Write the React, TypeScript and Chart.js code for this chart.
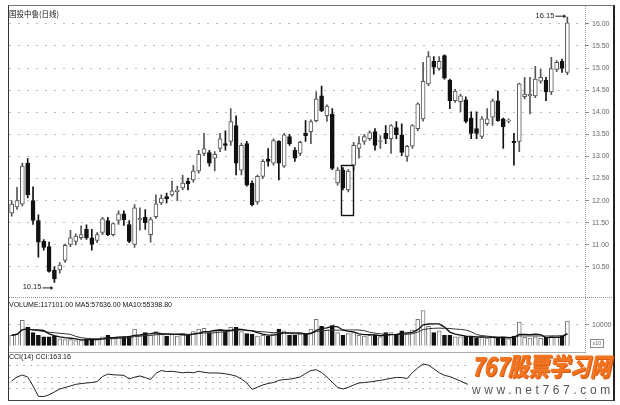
import React, { useEffect, useRef } from 'react';
import { Chart, registerables } from 'chart.js';

Chart.register(...registerables);

// ---- Data ----
const opens = [
  11.72, 11.86, 11.92, 12.85, 12.00, 11.55, 11.08, 10.96, 10.43, 10.43,
  10.65, 11.01, 11.08, 11.16, 11.35, 11.16, 11.10, 11.28, 11.55, 11.23,
  11.55, 11.70, 11.46, 11.01, 11.57, 11.62, 11.23, 11.64, 11.95, 12.09,
  12.13, 12.20, 12.29, 12.44, 12.47, 12.67, 13.07, 13.09, 12.96, 13.18,
  13.29, 13.34, 13.70, 12.69, 13.29, 12.40, 11.97, 12.55, 12.94, 12.85,
  13.34, 12.78, 13.45, 13.14, 13.07, 13.52, 13.56, 13.81, 14.37, 13.92,
  13.96, 12.40, 12.69, 12.24, 12.80, 13.18, 13.34, 13.40, 13.56, 13.34,
  13.52, 13.40, 13.65, 13.49, 13.00, 13.23, 13.63, 13.85, 14.64, 15.15,
  14.99, 15.28, 14.73, 14.26, 14.24, 14.28, 13.87, 13.63, 13.45, 13.74,
  13.89, 14.26, 13.85, 13.80, 13.34, 13.34, 14.35, 14.37, 14.37, 14.70,
  14.73, 14.46, 14.97, 15.15, 14.90,
];
const highs = [
  12.00, 12.30, 12.85, 12.95, 12.31, 11.68, 11.12, 11.06, 10.50, 10.60,
  11.02, 11.33, 11.25, 11.43, 11.45, 11.35, 11.28, 11.62, 11.62, 11.50,
  11.77, 11.77, 11.55, 11.91, 11.84, 11.80, 11.62, 12.13, 12.13, 12.17,
  12.44, 12.33, 12.58, 12.51, 12.80, 13.14, 13.52, 13.14, 13.11, 13.52,
  13.58, 14.08, 13.92, 13.30, 13.34, 12.45, 12.58, 12.93, 13.18, 13.40,
  13.36, 13.52, 13.50, 13.20, 13.34, 13.81, 13.83, 14.46, 14.59, 14.17,
  14.08, 12.75, 12.75, 12.70, 13.32, 13.45, 13.50, 13.58, 13.63, 13.47,
  13.70, 13.72, 13.79, 13.74, 13.25, 13.72, 14.21, 15.13, 15.37, 15.26,
  15.26, 15.30, 14.75, 14.52, 14.41, 14.35, 14.01, 14.01, 13.90, 14.08,
  14.30, 14.48, 13.87, 13.85, 13.52, 14.66, 14.79, 14.79, 15.04, 14.97,
  14.79, 15.24, 15.17, 15.20, 16.15,
];
const lows = [
  11.65, 11.80, 11.88, 12.06, 11.46, 10.72, 10.88, 10.38, 10.15, 10.36,
  10.60, 10.96, 11.00, 11.12, 11.12, 10.88, 11.05, 11.23, 11.21, 11.20,
  11.46, 11.44, 11.05, 10.94, 11.33, 11.35, 11.06, 11.60, 11.91, 11.95,
  12.10, 12.00, 12.25, 12.24, 12.42, 12.62, 13.02, 12.78, 12.67, 13.11,
  13.14, 13.25, 12.58, 12.58, 12.33, 11.88, 11.92, 12.50, 12.78, 12.80,
  12.47, 12.75, 13.25, 12.89, 13.02, 13.34, 13.29, 13.78, 14.01, 13.79,
  12.70, 12.35, 12.24, 12.20, 12.69, 12.96, 13.27, 13.36, 13.14, 13.18,
  13.29, 13.07, 13.40, 13.02, 12.89, 13.18, 13.58, 13.80, 14.60, 14.86,
  14.95, 14.75, 14.08, 14.22, 14.01, 13.76, 13.40, 13.40, 13.40, 13.70,
  13.70, 13.79, 13.18, 13.76, 12.80, 13.11, 14.30, 13.96, 14.33, 14.66,
  14.26, 14.40, 14.92, 14.90, 14.85,
];
const closes = [
  11.92, 12.00, 12.78, 12.13, 11.55, 11.06, 10.94, 10.40, 10.23, 10.54,
  10.99, 11.16, 11.20, 11.23, 11.16, 11.01, 11.23, 11.59, 11.23, 11.48,
  11.70, 11.57, 11.08, 11.84, 11.60, 11.50, 11.57, 11.93, 12.06, 12.04,
  12.22, 12.24, 12.40, 12.38, 12.67, 13.05, 13.18, 12.85, 13.05, 13.40,
  13.25, 13.79, 12.85, 13.25, 12.35, 11.91, 12.55, 12.89, 12.89, 13.36,
  12.85, 13.49, 13.29, 12.96, 13.32, 13.47, 13.79, 14.30, 14.03, 14.14,
  12.73, 12.69, 12.29, 12.67, 13.25, 13.29, 13.45, 13.54, 13.25, 13.36,
  13.40, 13.70, 13.49, 13.09, 13.23, 13.70, 14.19, 14.70, 15.26, 15.02,
  15.15, 14.77, 14.26, 14.48, 14.37, 13.79, 13.52, 13.52, 13.85, 13.85,
  14.26, 13.81, 13.67, 13.82, 13.31, 14.64, 14.41, 14.41, 14.75, 14.79,
  14.46, 14.99, 15.13, 14.99, 16.02,
];
const volumes = [
  50000, 58000, 121000, 87500, 62500, 50000, 42000, 42000, 46000, 33000,
  29000, 29000, 25000, 25000, 33000, 33000, 33000, 42000, 50000, 37000,
  42000, 42000, 46000, 79000, 50000, 62500, 50000, 67000, 58000, 46000,
  54000, 46000, 58000, 50000, 67000, 79000, 83000, 62500, 71000, 79000,
  67000, 87500, 87500, 67000, 58000, 54000, 46000, 50000, 46000, 58000,
  79000, 71000, 50000, 50000, 58000, 54000, 79000, 125000, 92000, 75000,
  96000, 62500, 50000, 58000, 62500, 50000, 46000, 50000, 50000, 42000,
  62500, 62500, 54000, 71000, 58000, 75000, 125000, 167000, 92000, 62500,
  71000, 50000, 50000, 42000, 42000, 46000, 42000, 37000, 42000, 37000,
  42000, 37000, 42000, 33000, 46000, 112000, 40000, 36000, 42000, 35808,
  40000, 45000, 40000, 46079, 117101,
];
const cciValues = [
  33, 100, 133, 100, -50, -222, -227, -197, -150, -100,
  -75, -50, -22, -10, 0, 8, 23, 108, 148, 137,
  133, 127, 68, 97, 117, 90, 58, 162, 208, 190,
  195, 183, 170, 180, 170, 195, 178, 167, 167, 165,
  153, 138, 115, 67, 0, -107, -70, -33, -8, 8,
  43, 58, 63, 80, 100, 158, 208, 222, 175, 100,
  12, -72, -100, -73, -33, 0, 8, 17, 30, 43,
  60, 78, 92, 90, 75, 173, 252, 317, 298, 237,
  173, 127, 107, 70, 32, -10, -37, -50, -58, -75,
  -100, -133, -167, -200, -175, 33, 83, 92, 108, 117,
  100, 133, 142, 133, 163,
];
const priceTicks = [10.5, 11, 11.5, 12, 12.5, 13, 13.5, 14, 14.5, 15, 15.5, 16];
const priceTickLabels = ['10.50', '11.00', '11.50', '12.00', '12.50', '13.00', '13.50', '14.00', '14.50', '15.00', '15.50', '16.00'];
const volumeTicks = [100000];
const volumeTickLabels = ['10000'];
const cciTicks = [-100, 0, 100, 300];
// highlighted candles (box): from/to candle index, price top/bottom
const highlightIndex = [61.6, 63.8];
const highlightPrice = [12.8, 11.66];

const TITLE = '国投中鲁(日线)';
const VOLUME_HEADER = 'VOLUME:117101.00 MA5:57636.00 MA10:55398.80';
const CCI_HEADER = 'CCI(14) CCI:163.16';

// ---- Styling / layout constants ----
const FONT = '"Liberation Sans", Arial, sans-serif';
const X_MIN = -0.5;
const X_MAX = 107.3;
const UP_EDGE = '#555';
const DOWN_FILL = '#111';

const movingAvg = (arr: number[], n: number) =>
  arr.map((_, i) => {
    const s = arr.slice(Math.max(0, i - n + 1), i + 1);
    return s.reduce((a, b) => a + b, 0) / s.length;
  });

const xScale = { type: 'linear', min: X_MIN, max: X_MAX, offset: false, display: false };

const annotPlugin = {
  id: 'annot',
  afterDatasetsDraw(chart: any) {
    const { ctx, scales } = chart;
    const x = scales.x, y = scales.y;
    let lo = 0, hi = 0;
    lows.forEach((v, i) => { if (v < lows[lo]) lo = i; });
    highs.forEach((v, i) => { if (v > highs[hi]) hi = i; });
    ctx.save();
    ctx.font = `7.5px ${FONT}`;
    ctx.fillStyle = '#222';
    ctx.strokeStyle = '#222';
    ctx.lineWidth = 1;
    ctx.textBaseline = 'middle';
    const draw = (label: string, px: number, py: number) => {
      ctx.textAlign = 'right';
      ctx.fillText(label, px - 13, py);
      ctx.beginPath();
      ctx.moveTo(px - 12, py + 0.5);
      ctx.lineTo(px - 3, py + 0.5);
      ctx.stroke();
      ctx.beginPath();
      ctx.moveTo(px - 1, py + 0.5);
      ctx.lineTo(px - 4, py - 1.5);
      ctx.lineTo(px - 4, py + 2.5);
      ctx.closePath();
      ctx.fill();
    };
    draw(lows[lo].toFixed(2), x.getPixelForValue(lo), y.getPixelForValue(lows[lo]) + 5);
    draw(highs[hi].toFixed(2), x.getPixelForValue(hi), y.getPixelForValue(highs[hi]) - 1.5);

    // highlight box
    const bx1 = x.getPixelForValue(highlightIndex[0]);
    const bx2 = x.getPixelForValue(highlightIndex[1]);
    const by1 = y.getPixelForValue(highlightPrice[0]);
    const by2 = y.getPixelForValue(highlightPrice[1]);
    ctx.lineWidth = 1.4;
    ctx.strokeStyle = '#111';
    ctx.strokeRect(Math.round(bx1) + 0.5, Math.round(by1) + 0.5, Math.round(bx2 - bx1), Math.round(by2 - by1));
    ctx.restore();
  },
};

function useChart(ref: any, build: () => any) {
  useEffect(() => {
    if (!ref.current) return;
    const chart = new Chart(ref.current, build());
    return () => chart.destroy();
  }, []);
}

export default function App() {
  const priceRef = useRef<HTMLCanvasElement>(null);
  const volRef = useRef<HTMLCanvasElement>(null);
  const cciRef = useRef<HTMLCanvasElement>(null);

  const idx = closes.map((_, i) => i);
  const isUp = idx.map((i) => closes[i] >= opens[i]);

  useChart(priceRef, () => ({
    type: 'bar',
    data: {
      datasets: [
        {
          data: idx.map((i) => ({ x: i, y: [lows[i], highs[i]] })),
          barThickness: 1,
          backgroundColor: isUp.map((u) => (u ? UP_EDGE : DOWN_FILL)),
          borderWidth: 0,
          grouped: false,
          order: 2,
        },
        {
          data: idx.map((i) => ({ x: i, y: [opens[i], closes[i]] })),
          barThickness: 4,
          backgroundColor: isUp.map((u) => (u ? '#fff' : DOWN_FILL)),
          borderColor: isUp.map((u) => (u ? UP_EDGE : DOWN_FILL)),
          borderWidth: 1,
          borderSkipped: false,
          grouped: false,
          order: 1,
        },
      ],
    },
    options: {
      animation: false,
      responsive: false,
      maintainAspectRatio: false,
      layout: { padding: { left: 9, top: 8, right: 0, bottom: 4 } },
      plugins: { legend: { display: false }, tooltip: { enabled: false } },
      scales: {
        x: xScale,
        y: {
          position: 'right',
          min: 9.915,
          max: 16.358,
          afterBuildTicks: (s: any) => { s.ticks = priceTicks.map((v) => ({ value: v })); },
          afterFit: (s: any) => { s.width = 35; },
          ticks: {
            callback: (_v: any, i: number) => priceTickLabels[i],
            color: '#666',
            font: { size: 7, family: FONT },
            padding: 3,
          },
          grid: { color: '#bdbdbd', tickLength: 4, tickColor: '#888', lineWidth: 1 },
          border: { display: false, dash: [2, 7] },
        },
      },
    },
    plugins: [annotPlugin],
  }));

  useChart(volRef, () => ({
    type: 'bar',
    data: {
      datasets: [
        {
          type: 'line',
          data: movingAvg(volumes, 5).map((v, i) => ({ x: i, y: v })),
          borderColor: '#111',
          borderWidth: 1.3,
          pointRadius: 0,
          order: 1,
        },
        {
          type: 'line',
          data: movingAvg(volumes, 10).map((v, i) => ({ x: i, y: v })),
          borderColor: '#333',
          borderWidth: 1,
          pointRadius: 0,
          order: 2,
        },
        {
          type: 'bar',
          data: volumes.map((v, i) => ({ x: i, y: v })),
          barThickness: 4,
          backgroundColor: isUp.map((u) => (u ? '#fff' : DOWN_FILL)),
          borderColor: isUp.map((u) => (u ? '#777' : DOWN_FILL)),
          borderWidth: 1,
          order: 3,
        },
      ],
    },
    options: {
      animation: false,
      responsive: false,
      maintainAspectRatio: false,
      layout: { padding: { left: 9, top: 11, right: 0, bottom: 2 } },
      plugins: { legend: { display: false }, tooltip: { enabled: false } },
      scales: {
        x: xScale,
        y: {
          position: 'right',
          min: 0,
          max: 179167,
          afterBuildTicks: (s: any) => { s.ticks = volumeTicks.map((v) => ({ value: v })); },
          afterFit: (s: any) => { s.width = 35; },
          ticks: {
            callback: (_v: any, i: number) => volumeTickLabels[i],
            color: '#666',
            font: { size: 7, family: FONT },
            padding: 3,
          },
          grid: { color: '#bdbdbd', tickLength: 4, tickColor: '#888' },
          border: { display: false, dash: [2, 7] },
        },
      },
    },
  }));

  useChart(cciRef, () => ({
    type: 'line',
    data: {
      datasets: [
        {
          data: cciValues.map((v, i) => ({ x: i, y: v })),
          borderColor: '#222',
          borderWidth: 1,
          pointRadius: 0,
          tension: 0,
        },
      ],
    },
    options: {
      animation: false,
      responsive: false,
      maintainAspectRatio: false,
      layout: { padding: { left: 9, top: 8, right: 0, bottom: 1 } },
      plugins: { legend: { display: false }, tooltip: { enabled: false } },
      scales: {
        x: xScale,
        y: {
          position: 'right',
          min: -267,
          max: 367,
          afterBuildTicks: (s: any) => { s.ticks = cciTicks.map((v) => ({ value: v })); },
          afterFit: (s: any) => { s.width = 35; },
          ticks: { display: false },
          grid: { color: '#bbb', drawTicks: false },
          border: { display: false, dash: [2, 5] },
        },
      },
    },
  }));

  const abs = (o: any) => ({ position: 'absolute', ...o });
  const textStyle = { fontFamily: FONT, fontSize: 7, color: '#111', whiteSpace: 'nowrap', lineHeight: '8px' };

  return (
    <div style={{ position: 'fixed', left: 0, top: 0, width: 620, height: 405, background: '#fff', overflow: 'hidden' } as any}>
      {/* outer frame */}
      <div style={abs({ left: 8, top: 5, width: 604, height: 394, borderLeft: '1px solid #333', borderTop: '1px solid #777', borderRight: '2px solid #222', borderBottom: '1px solid #444' })} />
      {/* panel separators */}
      <div style={abs({ left: 9, top: 297, width: 603, height: 0, borderTop: '1px dotted #999' })} />
      <div style={abs({ left: 9, top: 352, width: 576, height: 1, background: '#aaa' })} />
      <div style={abs({ left: 585, top: 6, width: 0, height: 393, borderLeft: '1px dotted #999' })} />

      <canvas ref={priceRef} width={620} height={300} style={abs({ left: 0, top: 0 })} />
      <canvas ref={volRef} width={620} height={56} style={abs({ left: 0, top: 297 })} />
      <canvas ref={cciRef} width={620} height={47} style={abs({ left: 0, top: 353 })} />

      <div style={abs({ ...textStyle, left: 9, top: 9, fontSize: 7.5, fontFamily: '"Noto Sans CJK SC", ' + FONT, lineHeight: '9px' })}>{TITLE}</div>
      <div style={abs({ ...textStyle, left: 9, top: 301 })}>{VOLUME_HEADER}</div>
      <div style={abs({ ...textStyle, left: 9, top: 353 })}>{CCI_HEADER}</div>
      <div style={abs({ left: 590, top: 339, width: 12, height: 7, border: '1px solid #888', fontFamily: FONT, fontSize: 5.5, lineHeight: '7px', color: '#666', textAlign: 'center' })}>x10</div>

      {/* watermark */}
      <div style={abs({ left: 468, top: 353, width: 143, height: 45, background: '#fff' })} />
      <div style={abs({ left: 471, top: 350, fontFamily: '"Noto Sans CJK SC", sans-serif', fontSize: 21, fontWeight: 900, fontStyle: 'italic', color: '#f27420', transform: 'scaleY(1.22)', transformOrigin: 'top left', lineHeight: '24px', whiteSpace: 'nowrap', letterSpacing: -0.5, textShadow: '1px 1px 0 #d85a10' })}>767股票学习网</div>
      <div style={abs({ left: 472, top: 384, fontFamily: FONT, fontSize: 12, letterSpacing: 3.6, color: '#555', lineHeight: '13px', whiteSpace: 'nowrap' })}>www.net767.com</div>
    </div>
  );
}
